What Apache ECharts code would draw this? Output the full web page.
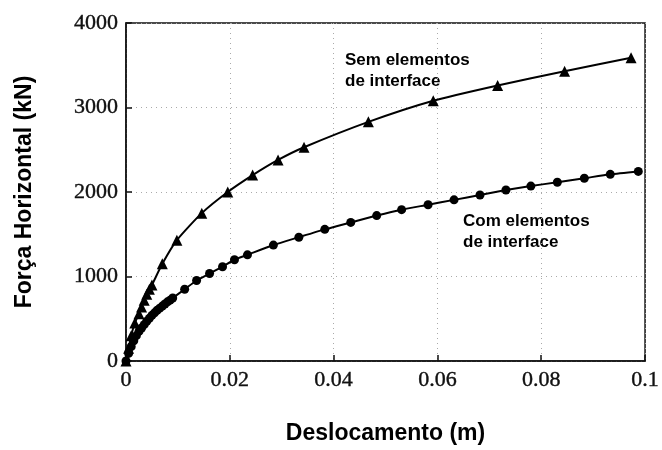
<!DOCTYPE html>
<html>
<head>
<meta charset="utf-8">
<script src="https://cdn.jsdelivr.net/npm/echarts@6/dist/echarts.min.js"></script>
<style>
  html, body { margin: 0; padding: 0; background: #fff; }
  #chart { width: 662px; height: 450px; }
</style>
</head>
<body>
<div id="chart"></div>
<script>
// Displacement (m) and horizontal force (kN) for the model without interface elements
const semDesloc = [0, 0.0005, 0.001, 0.0017, 0.0025, 0.003, 0.0035, 0.004, 0.0045, 0.005, 0.007, 0.0098, 0.0146, 0.0196, 0.0244, 0.0293, 0.0343, 0.0467, 0.0592, 0.0716, 0.0845, 0.0973];
const semForca  = [0, 150, 300, 450, 560, 640, 720, 790, 850, 900, 1150, 1430, 1750, 2000, 2200, 2380, 2530, 2830, 3080, 3260, 3430, 3590];

// Displacement (m) and horizontal force (kN) for the model with interface elements
const comDesloc = [0, 0.0005, 0.001, 0.0015, 0.002, 0.0025, 0.003, 0.0035, 0.004, 0.0045, 0.005, 0.0055, 0.006, 0.0065, 0.007, 0.0075, 0.008, 0.0085, 0.009, 0.0113, 0.0136, 0.0161, 0.0186, 0.0209, 0.0234, 0.0284, 0.0333, 0.0383, 0.0433, 0.0483, 0.0531, 0.0582, 0.0632, 0.0682, 0.0732, 0.0780, 0.0831, 0.0883, 0.0933, 0.0987];
const comForca  = [0, 90, 170, 240, 300, 350, 390, 430, 470, 505, 540, 570, 600, 625, 650, 675, 700, 720, 745, 849, 953, 1035, 1116, 1198, 1256, 1372, 1465, 1558, 1640, 1721, 1791, 1849, 1907, 1965, 2023, 2070, 2116, 2163, 2209, 2244];

const xTicks = [0, 0.02, 0.04, 0.06, 0.08, 0.1];
const yTicks = [0, 1000, 2000, 3000, 4000];

const pairs = (xs, ys) => xs.map((x, i) => [x, ys[i]]);
const tickFont = { fontFamily: '"Liberation Serif", serif', fontSize: 22, color: '#111', textBorderColor: '#111', textBorderWidth: 0.4 };
const titleFont = { fontFamily: '"Liberation Sans", Arial, sans-serif', fontSize: 23, fontWeight: 'bold', color: '#000' };
const noteFont = { fontFamily: '"Liberation Sans", Arial, sans-serif', fontSize: 17, fontWeight: 'bold', fill: '#000', lineHeight: 21 };

const chart = echarts.init(document.getElementById('chart'), null, { renderer: 'canvas' });
chart.setOption({
  animation: false,
  backgroundColor: '#fff',
  grid: { left: 126, right: 14, top: 23, bottom: 83, show: true, borderColor: '#111', borderWidth: 1.5, containLabel: false },
  xAxis: {
    type: 'value', min: 0, max: 0.1, interval: 0.02,
    name: 'Deslocamento (m)', nameLocation: 'middle', nameGap: 61, nameTextStyle: titleFont,
    axisLine: { show: true, onZero: false, lineStyle: { color: '#111', width: 1.5 } },
    axisTick: { show: true, inside: true, length: 6, lineStyle: { color: '#111', width: 1.5 } },
    axisLabel: Object.assign({ margin: 8, formatter: v => xTicks.includes(+v.toFixed(2)) ? String(+v.toFixed(2)) : '' }, tickFont),
    splitLine: { show: true, lineStyle: { color: '#aaa', type: [1, 4], width: 1 } }
  },
  yAxis: {
    type: 'value', min: 0, max: 4000, interval: 1000,
    name: 'Força Horizontal (kN)', nameLocation: 'middle', nameGap: 90, nameTextStyle: titleFont,
    axisLine: { show: true, onZero: false, lineStyle: { color: '#111', width: 1.5 } },
    axisTick: { show: true, inside: true, length: 6, lineStyle: { color: '#111', width: 1.5 } },
    axisLabel: Object.assign({ margin: 8, formatter: v => yTicks.includes(v) ? String(v) : '' }, tickFont),
    splitLine: { show: true, lineStyle: { color: '#aaa', type: [1, 4], width: 1 } }
  },
  series: [
    {
      name: 'Sem elementos de interface', type: 'line', data: pairs(semDesloc, semForca),
      symbol: 'triangle', symbolSize: 11, showAllSymbol: true, smooth: 0.2,
      lineStyle: { color: '#000', width: 2 }, itemStyle: { color: '#000' }
    },
    {
      name: 'Com elementos de interface', type: 'line', data: pairs(comDesloc, comForca),
      symbol: 'circle', symbolSize: 9, showAllSymbol: true, smooth: 0.2,
      lineStyle: { color: '#000', width: 2 }, itemStyle: { color: '#000' }
    }
  ],
  graphic: [
    { type: 'text', left: 345, top: 50, style: Object.assign({ text: 'Sem elementos\nde interface' }, noteFont) },
    { type: 'text', left: 463, top: 211, style: Object.assign({ text: 'Com elementos\nde interface' }, noteFont) }
  ]
});
</script>
</body>
</html>
